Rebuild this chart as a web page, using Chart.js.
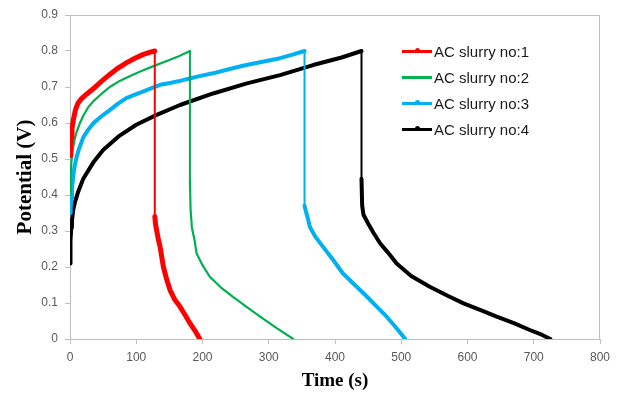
<!DOCTYPE html>
<html lang="en">
  <head>
    <meta charset="UTF-8" />
    <title>Potential vs time</title>
    <style>
      body {
        margin: 0;
        background: #fff;
      }
      .chart_frame {
        position: relative;
        width: 621px;
        height: 394px;
      }
      #legend {
        position: absolute;
        left: 402px;
        top: 38px;
        font-family: "Liberation Sans", Arial, sans-serif;
        font-size: 15px;
        color: #1a1a1a;
      }
      .row {
        display: flex;
        align-items: center;
        height: 26px;
      }
      .swatch {
        position: relative;
        width: 30px;
        height: 3px;
        margin-right: 2px;
      }
      .dot {
        position: absolute;
        left: 13px;
        top: -1.5px;
        width: 5px;
        height: 5px;
        border-radius: 50%;
      }
    </style>
  </head>
  <body>
    <div class="chart_frame">
      <canvas id="myChart"></canvas>
      <div id="legend"></div>
    </div>
  </body>
  <script src="https://cdn.jsdelivr.net/npm/chart.js"></script>

  <script>
    const labels = ["AC slurry no:1", "AC slurry no:2", "AC slurry no:3", "AC slurry no:4"];

    // tick labels
    const xTicks = [0, 100, 200, 300, 400, 500, 600, 700, 800];
    const yTicks = [0, 0.1, 0.2, 0.3, 0.4, 0.5, 0.6, 0.7, 0.8, 0.9];

    // AC slurry no:1
    const time1 = [0, 1, 2, 3, 5, 8, 12, 17, 25, 35, 47, 60, 72, 85, 98, 110, 120, 128, 128, 129, 131, 133, 136, 141, 146, 151, 158, 166, 174, 181, 189, 196];
    const volt1 = [0.51, 0.53, 0.56, 0.585, 0.608, 0.635, 0.655, 0.667, 0.68, 0.695, 0.715, 0.735, 0.752, 0.767, 0.78, 0.79, 0.796, 0.8, 0.34, 0.32, 0.3, 0.28, 0.256, 0.2, 0.165, 0.136, 0.11, 0.09, 0.066, 0.044, 0.022, 0];

    // AC slurry no:2
    const time2 = [0, 1, 2, 4, 7, 10, 15, 20, 28, 35, 47, 60, 75, 90, 106, 126, 150, 165, 181, 181, 182, 184, 188, 191, 200, 211, 228, 246, 266, 287, 312, 337];
    const volt2 = [0.4, 0.45, 0.49, 0.525, 0.555, 0.575, 0.6, 0.62, 0.645, 0.66, 0.68, 0.7, 0.717, 0.73, 0.743, 0.758, 0.775, 0.786, 0.8, 0.44, 0.36, 0.31, 0.275, 0.238, 0.205, 0.173, 0.143, 0.117, 0.09, 0.062, 0.03, 0];

    // AC slurry no:3
    const time3 = [0, 1, 2, 3, 5, 7, 10, 14, 20, 27, 35, 47, 60, 72, 85, 98, 110, 123, 136, 151, 166, 179, 197, 216, 241, 266, 291, 317, 336, 354, 354, 356, 359, 362, 370, 382, 397, 412, 430, 448, 463, 478, 492, 506];
    const volt3 = [0.35, 0.37, 0.39, 0.42, 0.455, 0.48, 0.506, 0.53, 0.56, 0.58, 0.599, 0.618, 0.636, 0.653, 0.669, 0.679, 0.687, 0.697, 0.706, 0.711, 0.717, 0.723, 0.731, 0.738, 0.75, 0.761, 0.77, 0.78, 0.79, 0.8, 0.37, 0.355, 0.335, 0.312, 0.285, 0.256, 0.22, 0.182, 0.15, 0.118, 0.09, 0.062, 0.032, 0];

    // AC slurry no:4
    const time4 = [0, 0.5, 1, 2, 3, 5, 7.5, 12.5, 20, 35, 50, 75, 100, 130, 166, 216, 267, 317, 367, 410, 440, 440, 441, 443, 450, 458, 468, 480, 493, 515, 543, 570, 594, 620, 644, 670, 694, 712, 725];
    const volt4 = [0.21, 0.245, 0.275, 0.31, 0.33, 0.36, 0.38, 0.41, 0.445, 0.49, 0.525, 0.565, 0.595, 0.622, 0.65, 0.682, 0.71, 0.733, 0.761, 0.782, 0.8, 0.445, 0.37, 0.345, 0.321, 0.295, 0.266, 0.24, 0.21, 0.175, 0.145, 0.12, 0.099, 0.08, 0.062, 0.044, 0.025, 0.012, 0];

    const colors = ["#ff0000", "#00b050", "#00b0f0", "#000000"];
    const widths = [5, 2.2, 4, 4];
    const hasDot = [true, false, true, true];

    function toPoints(ts, vs) {
      return ts.map((t, i) => ({ x: t, y: vs[i] }));
    }

    const series = [
      toPoints(time1, volt1),
      toPoints(time2, volt2),
      toPoints(time3, volt3),
      toPoints(time4, volt4),
    ];

    const datasets = series.map((pts, i) => ({
      label: labels[i],
      data: pts,
      borderColor: colors[i],
      backgroundColor: colors[i],
      borderWidth: widths[i],
      pointRadius: 0,
      tension: 0,
      borderJoinStyle: "round",
      borderCapStyle: "round",
      // the vertical drops are thin in the original
      segment: {
        borderWidth: (ctx) => (ctx.p0.parsed.x === ctx.p1.parsed.x ? 2 : widths[i]),
      },
    }));

    const axisColor = "#bfbfbf";
    const tickFont = { family: "'Liberation Sans', Arial, sans-serif", size: 12 };

    // box around the plot area (top and right sides)
    const plotBox = {
      id: "plotBox",
      beforeDatasetsDraw(chart) {
        const { ctx, chartArea } = chart;
        ctx.save();
        ctx.strokeStyle = axisColor;
        ctx.lineWidth = 1;
        ctx.beginPath();
        ctx.moveTo(chartArea.left, chartArea.top + 0.5);
        ctx.lineTo(chartArea.right - 0.5, chartArea.top + 0.5);
        ctx.lineTo(chartArea.right - 0.5, chartArea.bottom);
        ctx.stroke();
        ctx.restore();
      },
    };

    const ctx = document.getElementById("myChart");
    const chart = new Chart(ctx, {
      type: "line",
      data: { datasets: datasets },
      options: {
        responsive: true,
        maintainAspectRatio: false,
        animation: false,
        layout: { padding: { top: 15, right: 21, left: 0, bottom: 0 } },
        plugins: {
          legend: { display: false },
          tooltip: { enabled: false },
        },
        scales: {
          x: {
            type: "linear",
            min: 0,
            max: 800,
            afterBuildTicks: (scale) => {
              scale.ticks = xTicks.map((v) => ({ value: v }));
            },
            afterFit: (scale) => {
              scale.height = 55;
            },
            grid: {
              drawOnChartArea: false,
              drawTicks: true,
              tickLength: 5,
              color: axisColor,
            },
            border: { display: true, color: axisColor },
            ticks: {
              color: "#595959",
              font: tickFont,
              padding: 6,
              maxRotation: 0,
            },
            title: {
              display: true,
              text: "Time (s)",
              color: "#000",
              font: { family: "'Liberation Serif', 'Times New Roman', serif", size: 19, weight: "bold" },
              padding: { top: 0, bottom: 2 },
            },
          },
          y: {
            min: 0,
            max: 0.9,
            afterBuildTicks: (scale) => {
              scale.ticks = yTicks.map((v) => ({ value: v }));
            },
            afterFit: (scale) => {
              scale.width = 70;
            },
            grid: {
              drawOnChartArea: false,
              drawTicks: true,
              tickLength: 5,
              color: axisColor,
            },
            border: { display: true, color: axisColor },
            ticks: {
              color: "#595959",
              font: tickFont,
              padding: 7,
              callback: (v) => (v === 0 ? "0" : Number(v).toFixed(1)),
            },
            title: {
              display: true,
              text: "Potential (V)",
              color: "#000",
              font: { family: "'Liberation Serif', 'Times New Roman', serif", size: 21, weight: "bold" },
              padding: { top: 13, bottom: 0 },
            },
          },
        },
      },
      plugins: [plotBox],
    });

    // legend as html, built from the datasets
    const legend = document.getElementById("legend");
    datasets.forEach((ds, i) => {
      const row = document.createElement("div");
      row.className = "row";
      const sw = document.createElement("span");
      sw.className = "swatch";
      sw.style.background = ds.borderColor;
      if (hasDot[i]) {
        const dot = document.createElement("span");
        dot.className = "dot";
        dot.style.background = ds.borderColor;
        sw.appendChild(dot);
      }
      const txt = document.createElement("span");
      txt.textContent = ds.label;
      row.appendChild(sw);
      row.appendChild(txt);
      legend.appendChild(row);
    });
  </script>
</html>
